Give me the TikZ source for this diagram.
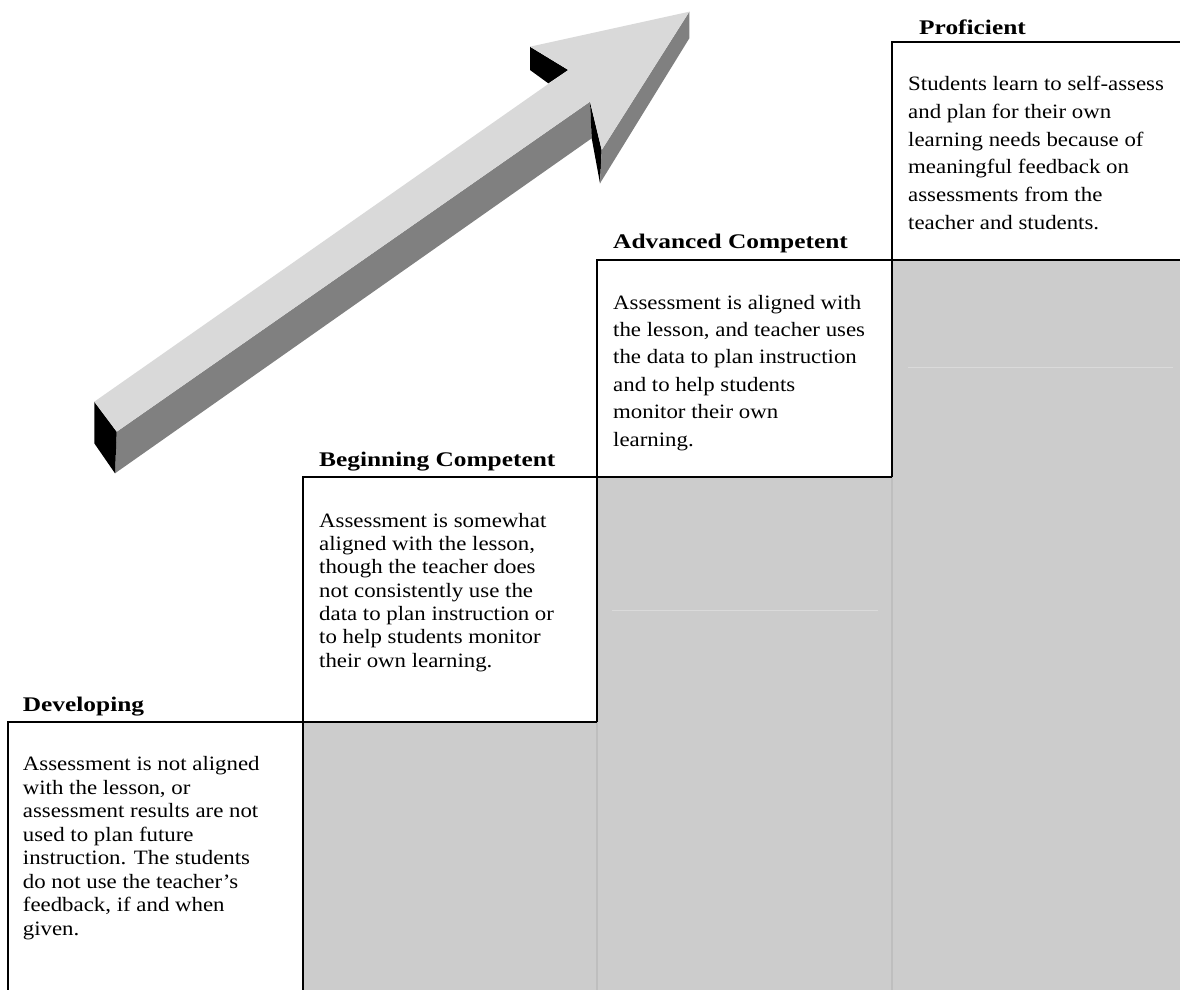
\documentclass[tikz,border=0pt]{standalone}
\usepackage{fontspec}
\setmainfont{Liberation Serif}[FakeStretch=1.12]
\newfontfamily\headfont{Liberation Serif}[FakeStretch=1.22]
\definecolor{arrowtop}{HTML}{D9D9D9}
\definecolor{arrowside}{HTML}{808080}
\definecolor{stepfill}{HTML}{CCCCCC}
\definecolor{stepsep}{HTML}{BEBEBE}
\definecolor{stepfaint}{HTML}{DADADA}

\begin{document}
\begin{tikzpicture}[
    x=1pt, y=-1pt,
    title/.style={anchor=base west, inner sep=0pt, font=\headfont\bfseries\fontsize{20.8}{24}\selectfont},
    body/.style={anchor=base west, inner sep=0pt, align=left, font=\fontsize{20.4}{#1}\selectfont},
    stair/.style={draw=black, line width=2pt},
    sep/.style={draw=stepsep, line width=1.5pt},
    faint/.style={draw=stepfaint, line width=1pt}
]
\useasboundingbox (0,0) rectangle (1180,990);

% Grey steps
\fill[stepfill] (303,722) rectangle (597,990);
\fill[stepfill] (597,477) rectangle (892,990);
\fill[stepfill] (892,260) rectangle (1180,990);
\draw[sep] (597,722) -- (597,990);
\draw[sep] (892,477) -- (892,990);
\draw[faint] (612,610) -- (878,610);
\draw[faint] (908,367) -- (1173,367);

% Staircase lines
\draw[stair] (7.5,990) -- (7.5,722) -- (597,722);
\draw[stair] (303,990) -- (303,477) -- (892,477);
\draw[stair] (597,722) -- (597,260) -- (1180,260);
\draw[stair] (892,477) -- (892,42) -- (1180,42);

% Arrow corners
\coordinate (tailtop) at (94.3,401.7);
\coordinate (tailbot) at (116.7,431.7);
\coordinate (taildeep) at (115,473.3);
\coordinate (tailback) at (94.3,443.3);
\coordinate (notchlow) at (590,101.7);
\coordinate (notchdeep) at (591.7,138.3);
\coordinate (barblow) at (601.7,150);
\coordinate (barbdeep) at (600,183.3);
\coordinate (tip) at (689.3,11.7);
\coordinate (tipdeep) at (689.3,38.3);
\coordinate (barbup) at (530,46.7);
\coordinate (notchup) at (568.3,70);

% Arrow faces
\fill[arrowside] (tailbot) -- (notchlow) -- (notchdeep) -- (taildeep) -- cycle;
\fill[black] (tailtop) -- (tailbot) -- (taildeep) -- (tailback) -- cycle;
\fill[black] (notchlow) -- (barblow) -- (barbdeep) -- (notchdeep) -- cycle;
\fill[arrowside] (tip) -- (tipdeep) -- (barbdeep) -- (barblow) -- cycle;
\fill[black] (barbup) -- (530,70) -- (548.3,83.3) -- (notchup) -- cycle;
\fill[arrowtop] (tailtop) -- (notchup) -- (barbup) -- (tip) -- (barblow) -- (notchlow) -- (tailbot) -- cycle;

% Titles
\node[title] (devtitle) at (22.7,711.7) {Developing};
\node[title] (begtitle) at (319,466) {Beginning Competent};
\node[title] (advtitle) at (613,248.3) {Advanced Competent};
\node[title] (protitle) at (919,35) {Proficient};

% Descriptions (placed at the baseline of the last line)
\node[body=23.5] (devtext) at (22.7,935.2) {Assessment is not aligned\\with the lesson, or\\assessment results are not\\used to plan future\\instruction. The students\\do not use the teacher's\\feedback, if and when\\given.};
\node[body=23.3] (begtext) at (319,667.1) {Assessment is somewhat\\aligned with the lesson,\\though the teacher does\\not consistently use the\\data to plan instruction or\\to help students monitor\\their own learning.};
\node[body=27.4] (advtext) at (613,446) {Assessment is aligned with\\the lesson, and teacher uses\\the data to plan instruction\\and to help students\\monitor their own\\learning.};
\node[body=27.7] (protext) at (908,229.2) {Students learn to self-assess\\and plan for their own\\learning needs because of\\meaningful feedback on\\assessments from the\\teacher and students.};

\end{tikzpicture}
\end{document}
